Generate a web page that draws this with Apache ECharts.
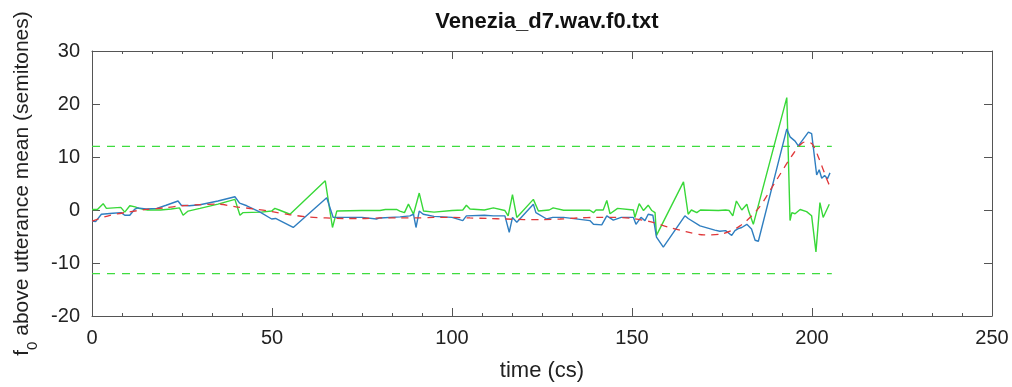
<!DOCTYPE html>
<html>
<head>
<meta charset="utf-8">
<script src="https://cdn.jsdelivr.net/npm/echarts@6/dist/echarts.min.js"></script>
<style>
  html, body { margin: 0; padding: 0; background: #fff; }
  #chart { width: 1012px; height: 387px; }
</style>
</head>
<body>
<div id="chart"></div>
<script>
// f0 track (blue), time in cs and semitones above utterance mean
const blueTime = [0, 1, 2.6, 5.8, 8.1, 9.1, 10.5, 11.8, 12.7, 15, 18, 20.6, 23.9, 24.8, 27, 30, 35, 39.7, 41, 43, 46.7, 49.9, 51, 52.2, 55.9,
  65.2, 67, 68, 75, 79, 80, 85.6, 88.3, 89.3, 90, 90.9, 92, 95, 100, 103, 104, 109, 111.5, 114.7, 115.9, 116.8, 118, 122.6, 123.3,
  126.3, 128, 131, 138.3, 139.3, 141.6, 143, 144.8, 147, 150.4, 151.1, 152.5, 153.6, 154.5, 155.8, 156.8, 158.7, 164.7, 165.6,
  168.9, 173, 174.4, 176, 177.7, 178.6, 179.5, 180.5, 181.9, 183.2, 184.2, 185.1, 193, 193.9, 195.3, 196.2, 199, 199.9, 201.3,
  202, 202.7, 203.5, 204.3, 205];
const blueF0 = [-2.1, -2.2, -0.8, -0.6, -0.5, -1.0, -1.0, 0.1, 0.4, 0.2, 0.3, 0.9, 1.7, 0.9, 0.8, 1.0, 1.7, 2.5, 1.3, 0.8, -0.4, -1.7, -1.6, -2.0, -3.3,
  2.3, -1.4, -1.4, -1.4, -1.7, -1.5, -1.3, -1.1, -0.8, -3.3, -0.2, -0.8, -1.2, -1.4, -2.0, -1.1, -1.0, -1.1, -1.1, -4.2, -1.4, -2.3, 1.1, -0.5,
  -1.7, -1.4, -1.4, -2.0, -2.7, -2.8, -1.1, -1.9, -1.4, -1.4, -2.7, -1.4, -2.0, -0.8, -1.0, -5.1, -7.0, -1.1, -1.6,
  -3.0, -3.8, -4.0, -3.9, -4.8, -3.9, -3.5, -3.3, -2.7, -3.6, -5.7, -5.9, 15.3, 13.8, 13.0, 12.1, 14.7, 14.4, 6.6,
  7.6, 6.0, 6.5, 5.9, 7.0];

// second f0 track (green)
const greenTime = [0, 1.5, 3.1, 4, 6, 8, 9.1, 10.5, 12, 13, 15.4, 19, 22, 24.3, 25.3, 26.7, 30, 35, 39.7, 41.1, 41.9, 47, 49.9, 50.8, 52, 55,
  64.8, 66.8, 68, 75, 80, 81.5, 84.6, 85.5, 86.8, 87.9, 89.3, 90.9, 92.1, 95, 100, 103, 104, 105, 109, 111.5, 114.7, 115.6, 116.8, 118,
  122.6, 124, 127, 128.1, 131, 138.3, 139.3, 140, 142, 143, 143.9, 146, 150.4, 150.8, 152, 153.2, 154.5, 155.5, 156.4, 156.8,
  164.3, 165.6, 166.5, 168, 169, 174, 176, 177, 178, 179, 180.5, 181.9, 182.4, 183.7, 193, 193.9, 194.4, 195.3, 196.7, 198.5,
  199.9, 201.1, 202.2, 203.1, 204.8];
const greenF0 = [0.1, 0.1, 1.2, 0.3, 0.4, 0.5, -0.4, 0.8, 0.6, 0.3, 0.0, 0.0, 0.2, 0.4, -1.0, -0.2, 0.3, 1.1, 2.0, -1.0, -0.5, -0.4, -0.2, 0.3, 0.0, -0.8,
  5.5, -3.3, -0.2, -0.1, -0.1, 0.1, 0.1, -0.2, -0.5, 1.1, -0.8, 3.2, -0.2, -0.4, -0.1, 0.0, 0.9, 0.2, 0.0, 0.4, -0.1, -1.1, 2.9, -1.4,
  2.0, -0.2, 0.0, 0.4, -0.05, -0.05, -0.5, 0.0, 0.0, 1.8, -0.7, 0.3, 0.0, -1.4, 1.2, -0.1, 0.9, -0.1, -0.5, -4.8,
  5.3, -0.8, 0.0, -0.5, 0.0, -0.1, 0.0, -0.1, -1.1, 1.7, 0.0, 1.1, -0.2, -2.7, 21.2, -2.0, -0.5, -0.7, 0.1, -0.3,
  -1.1, -7.9, 1.4, -1.4, 1.1];

// smooth contour fit (red dashed)
const fitTime = [0, 5, 10, 15, 20, 25, 30, 35, 40, 45, 50, 55, 60, 65, 70, 75, 80, 85, 90, 95, 100, 105, 110, 115, 120, 125, 130,
  135, 140, 145, 150, 155, 160, 165, 170, 175, 180, 185, 190, 195, 198, 200, 202, 204, 205];
const fitF0 = [-2.1, -1.0, -0.4, 0.1, 0.4, 0.8, 1.0, 1.1, 0.6, 0.2, -0.3, -0.9, -1.3, -1.5, -1.6, -1.6, -1.5, -1.5, -1.5, -1.4, -1.4,
  -1.5, -1.6, -1.7, -1.8, -1.8, -1.7, -1.5, -1.4, -1.4, -1.6, -2.2, -3.2, -4.1, -4.7, -4.5, -3.0, 0.2, 5.5, 10.8, 12.8, 12.5, 9.6, 6.0, 4.4];

// ±12 semitone reference limits
const limitTime = [0, 205.5];
const upperLimit = 12;
const lowerLimit = -12;

const xTicks = [0, 50, 100, 150, 200, 250];
const yTicks = [-20, -10, 0, 10, 20, 30];

const pairs = (xs, ys) => xs.map((x, i) => [x, ys[i]]);

const FONT = 'Liberation Sans';
const AXIS_COLOR = '#555';
const TEXT_COLOR = '#222';

const xBase = {
  type: 'value', min: xTicks[0], max: xTicks[xTicks.length - 1], interval: 50,
  axisLine: { show: true, onZero: false, lineStyle: { color: AXIS_COLOR, width: 1 } },
  axisTick: { show: true, inside: true, length: 8, lineStyle: { color: AXIS_COLOR } },
  minorTick: { show: true, splitNumber: 6, length: 3, lineStyle: { color: AXIS_COLOR } },
  splitLine: { show: false }
};
const yBase = {
  type: 'value', min: yTicks[0], max: yTicks[yTicks.length - 1], interval: 10,
  axisLine: { show: true, onZero: false, lineStyle: { color: AXIS_COLOR, width: 1 } },
  axisTick: { show: true, inside: true, length: 8, lineStyle: { color: AXIS_COLOR } },
  splitLine: { show: false }
};

const chart = echarts.init(document.getElementById('chart'), null, { renderer: 'canvas' });
chart.setOption({
  animation: false,
  backgroundColor: '#fff',
  textStyle: { fontFamily: FONT },
  title: {
    text: 'Venezia_d7.wav.f0.txt',
    left: 542, top: 6, textAlign: 'center',
    textStyle: { fontFamily: FONT, fontSize: 22, fontWeight: 'bold', color: '#111' }
  },
  grid: { left: 92, top: 51, right: 20, bottom: 67, containLabel: false },
  xAxis: [
    Object.assign({}, xBase, {
      position: 'bottom',
      axisLabel: { fontFamily: FONT, fontSize: 20, color: TEXT_COLOR, margin: 12 },
      name: 'time (cs)', nameLocation: 'middle', nameGap: 44,
      nameTextStyle: { fontFamily: FONT, fontSize: 22, color: TEXT_COLOR }
    }),
    Object.assign({}, xBase, { position: 'top', axisLabel: { show: false } })
  ],
  yAxis: [
    Object.assign({}, yBase, {
      position: 'left',
      axisLabel: { fontFamily: FONT, fontSize: 20, color: TEXT_COLOR, margin: 12 },
      name: '{m|f}{s|0}{m| above utterance mean (semitones)}',
      nameLocation: 'middle', nameRotate: 90, nameGap: 52,
      nameTextStyle: {
        fontFamily: FONT, fontSize: 21, color: TEXT_COLOR,
        rich: {
          m: { fontFamily: FONT, fontSize: 21, color: TEXT_COLOR, lineHeight: 28, verticalAlign: 'top' },
          s: { fontFamily: FONT, fontSize: 15, color: TEXT_COLOR, lineHeight: 28, verticalAlign: 'bottom', padding: [12, 0, 0, 0] }
        }
      }
    }),
    Object.assign({}, yBase, { position: 'right', axisLabel: { show: false } })
  ],
  series: [
    {
      type: 'line', name: 'upper', data: pairs(limitTime, [upperLimit, upperLimit]),
      showSymbol: false, lineStyle: { color: '#3fdc3f', width: 1.3, type: [8, 7] }, z: 1
    },
    {
      type: 'line', name: 'lower', data: pairs(limitTime, [lowerLimit, lowerLimit]),
      showSymbol: false, lineStyle: { color: '#3fdc3f', width: 1.3, type: [8, 7] }, z: 1
    },
    {
      type: 'line', name: 'green', data: pairs(greenTime, greenF0),
      showSymbol: false, lineStyle: { color: '#38d838', width: 1.4 }, z: 2
    },
    {
      type: 'line', name: 'blue', data: pairs(blueTime, blueF0),
      showSymbol: false, lineStyle: { color: '#2f7ec0', width: 1.4 }, z: 3
    },
    {
      type: 'line', name: 'fit', data: pairs(fitTime, fitF0), smooth: 0.3,
      showSymbol: false, lineStyle: { color: '#e0383a', width: 1.3, type: [7, 6] }, z: 4
    }
  ]
});
</script>
</body>
</html>
